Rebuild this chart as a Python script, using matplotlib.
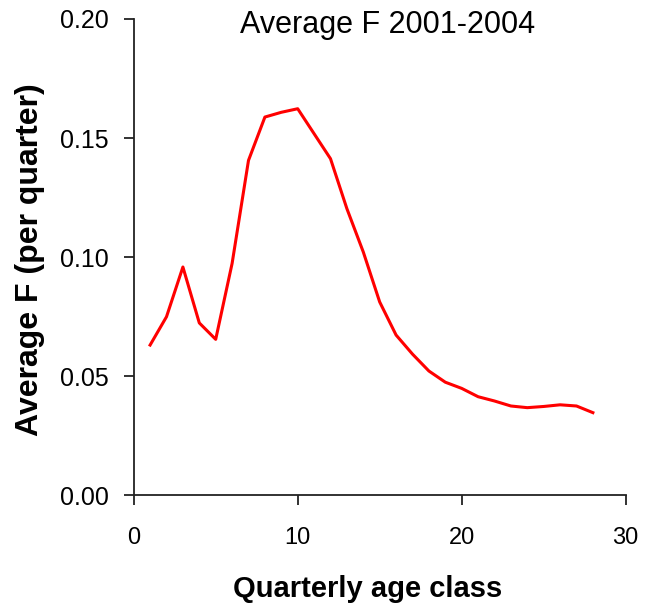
import matplotlib.pyplot as plt
import numpy as np

plt.rcParams['font.family'] = ['Liberation Sans', 'DejaVu Sans']

# Quarterly age class and average fishing mortality
age_class = list(range(1, 29))
avg_f = [0.0630, 0.0749, 0.0958, 0.0723, 0.0654, 0.0973, 0.1406, 0.1588,
         0.1608, 0.1623, 0.1518, 0.1413, 0.1203, 0.1021, 0.0811, 0.0672,
         0.0592, 0.0521, 0.0474, 0.0448, 0.0413, 0.0395, 0.0374, 0.0367,
         0.0372, 0.0379, 0.0374, 0.0346]

fig = plt.figure(figsize=(6.5, 6.07), dpi=100)
ax = fig.add_axes([0.2057, 0.1845, 0.7569, 0.7842])

ax.plot(age_class, avg_f, color='#ff0000', linewidth=2.2)

ax.set_xlim(0, 30)
ax.set_ylim(0, 0.20)
ax.set_xticks([0, 10, 20, 30])
ax.set_yticks([0, 0.05, 0.10, 0.15, 0.20])
ax.set_yticklabels(['0.00', '0.05', '0.10', '0.15', '0.20'])

for side in ['top', 'right']:
    ax.spines[side].set_visible(False)
for side in ['left', 'bottom']:
    ax.spines[side].set_color('#222222')
    ax.spines[side].set_linewidth(1.3)
ax.tick_params(direction='out', length=7, width=1.3, color='#222222')
ax.tick_params(axis='y', pad=11, labelsize=18)
ax.tick_params(axis='x', pad=16, labelsize=17)

# Axis labels and title placed in figure pixels to match the layout
fig.text(368 / 650, 1 - 597 / 607, 'Quarterly age class', ha='center',
         va='baseline', fontsize=21, fontweight='bold')
fig.text(30 / 650, 1 - 260 / 607, 'Average F (per quarter)', ha='center',
         va='center', rotation=90, fontsize=23, fontweight='bold')
fig.text(388 / 650, 1 - 33 / 607, 'Average F 2001-2004', ha='center',
         va='baseline', fontsize=22)

fig.savefig('out.png', dpi=100)
